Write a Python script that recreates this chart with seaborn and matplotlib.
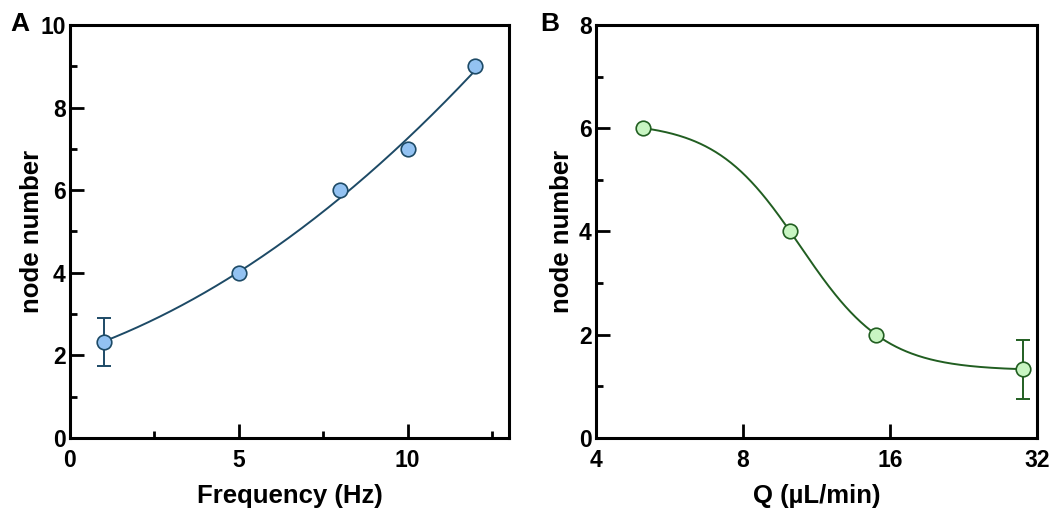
import numpy as np
import pandas as pd
import matplotlib
matplotlib.use("Agg")
import matplotlib.pyplot as plt
from matplotlib.ticker import FixedLocator, NullLocator, FixedFormatter
import seaborn as sns

# ---- data ----
freq_hz = [1, 5, 8, 10, 12]
nodes_a = [2.33, 4, 6, 7, 9]
err_a = [0.58, 0, 0, 0, 0]

flow_q = [5, 10, 15, 30]
nodes_b = [6, 4, 2, 1.33]
err_b = [0, 0, 0, 0.57]

xticks_a = [0, 5, 10]
yticks_a = [0, 2, 4, 6, 8, 10]
xticks_b = [4, 8, 16, 32]
yticks_b = [0, 2, 4, 6, 8]

sns.set_style("ticks")
plt.rcParams['font.family'] = ['Liberation Sans', 'DejaVu Sans']
plt.rcParams['font.weight'] = 'bold'
for k in ("text.color", "axes.labelcolor", "xtick.color", "ytick.color",
          "xtick.labelcolor", "ytick.labelcolor"):
    plt.rcParams[k] = "black"

W, H = 1060, 514
fig = plt.figure(figsize=(W / 100, H / 100), dpi=100)

def px_axes(l, t, r, b):
    return fig.add_axes([l / W, 1 - b / H, (r - l) / W, (b - t) / H])

axA = px_axes(70, 25, 509, 438)
axB = px_axes(596, 25, 1037, 438)

col_a_line = "#1d4a66"
col_a_fill = "#93c2f2"
col_b_line = "#215e21"
col_b_fill = "#c8f5c2"

# ---- Panel A: quadratic least-squares fit ----
dfA = pd.DataFrame({"x": freq_hz, "y": nodes_a, "e": err_a})
coef = np.polyfit(dfA["x"], dfA["y"], 2)
xs = np.linspace(min(freq_hz), max(freq_hz), 200)
fitA = pd.DataFrame({"x": xs, "y": np.polyval(coef, xs)})
sns.lineplot(data=fitA, x="x", y="y", ax=axA, color=col_a_line, lw=1.4, zorder=2)
e = dfA[dfA["e"] > 0]
axA.errorbar(e["x"], e["y"], yerr=e["e"], fmt="none", ecolor=col_a_line,
             elinewidth=1.4, capsize=4.8, capthick=1.4, zorder=2)
sns.scatterplot(data=dfA, x="x", y="y", ax=axA, s=110, color=col_a_fill,
                edgecolor=col_a_line, linewidth=1.2, zorder=3)

# ---- Panel B: logistic fit in log2(Q) (grid search, linear solve for plateaus) ----
dfB = pd.DataFrame({"x": flow_q, "y": nodes_b, "e": err_b})
u = np.log2(dfB["x"].values)
yv = dfB["y"].values
best = None
for u0 in np.linspace(2.5, 4.5, 201):
    for s in np.linspace(0.1, 1.0, 91):
        g = 1 / (1 + np.exp((u - u0) / s))
        A = np.column_stack([np.ones_like(g), g])
        sol, *_ = np.linalg.lstsq(A, yv, rcond=None)
        res = np.sum((A @ sol - yv) ** 2)
        if best is None or res < best[0]:
            best = (res, u0, s, sol)
_, u0, s, sol = best
xsb = np.logspace(np.log2(min(flow_q)), np.log2(max(flow_q)), 300, base=2)
gb = 1 / (1 + np.exp((np.log2(xsb) - u0) / s))
fitB = pd.DataFrame({"x": xsb, "y": sol[0] + sol[1] * gb})
sns.lineplot(data=fitB, x="x", y="y", ax=axB, color=col_b_line, lw=1.4, zorder=2)
e = dfB[dfB["e"] > 0]
axB.errorbar(e["x"], e["y"], yerr=e["e"], fmt="none", ecolor=col_b_line,
             elinewidth=1.4, capsize=4.8, capthick=1.4, zorder=2)
sns.scatterplot(data=dfB, x="x", y="y", ax=axB, s=110, color=col_b_fill,
                edgecolor=col_b_line, linewidth=1.2, zorder=3)

# ---- axes styling ----
axA.set_xlim(0, 13)
axA.set_ylim(0, 10)
axA.xaxis.set_major_locator(FixedLocator(xticks_a))
axA.xaxis.set_minor_locator(FixedLocator([2.5, 7.5, 12.5]))
axA.yaxis.set_major_locator(FixedLocator(yticks_a))
axA.yaxis.set_minor_locator(FixedLocator([1, 3, 5, 7, 9]))

axB.set_xscale("log", base=2)
axB.set_xlim(4, 32)
axB.set_ylim(0, 8)
axB.xaxis.set_major_locator(FixedLocator(xticks_b))
axB.xaxis.set_major_formatter(FixedFormatter([str(t) for t in xticks_b]))
axB.xaxis.set_minor_locator(NullLocator())
axB.yaxis.set_major_locator(FixedLocator(yticks_b))
axB.yaxis.set_minor_locator(FixedLocator([1, 3, 5, 7]))

ylab_x = {axA: (32 - 70) / 439, axB: (562 - 596) / 441}
for ax, xl in ((axA, "Frequency (Hz)"), (axB, "Q (\u00b5L/min)")):
    for sp in ax.spines.values():
        sp.set_visible(True)
        sp.set_linewidth(2.2)
        sp.set_color("black")
    ax.tick_params(which="major", direction="in", length=10, width=2.0,
                   labelsize=16.5, color="black", labelcolor="black")
    ax.tick_params(which="minor", direction="in", length=5, width=2.0, color="black")
    ax.tick_params(axis="x", which="major", pad=8)
    ax.tick_params(axis="y", which="major", pad=3)
    for lab in ax.get_xticklabels() + ax.get_yticklabels():
        lab.set_fontweight("bold")
    ax.set_xlabel(xl, fontsize=18.5, fontweight="bold", color="black")
    ax.set_ylabel("node number", fontsize=18.5, fontweight="bold", color="black")
    ax.xaxis.set_label_coords(0.5, -(496 - 438) / 413)
    ax.xaxis.label.set_va("center")
    ax.yaxis.set_label_coords(ylab_x[ax], 0.5)
    ax.yaxis.label.set_va("center")

fig.text(10 / W, 1 - 24 / H, "A", fontsize=19, fontweight="bold", va="center", ha="left")
fig.text(540 / W, 1 - 24 / H, "B", fontsize=19, fontweight="bold", va="center", ha="left")

fig.savefig("out.png", dpi=100)
